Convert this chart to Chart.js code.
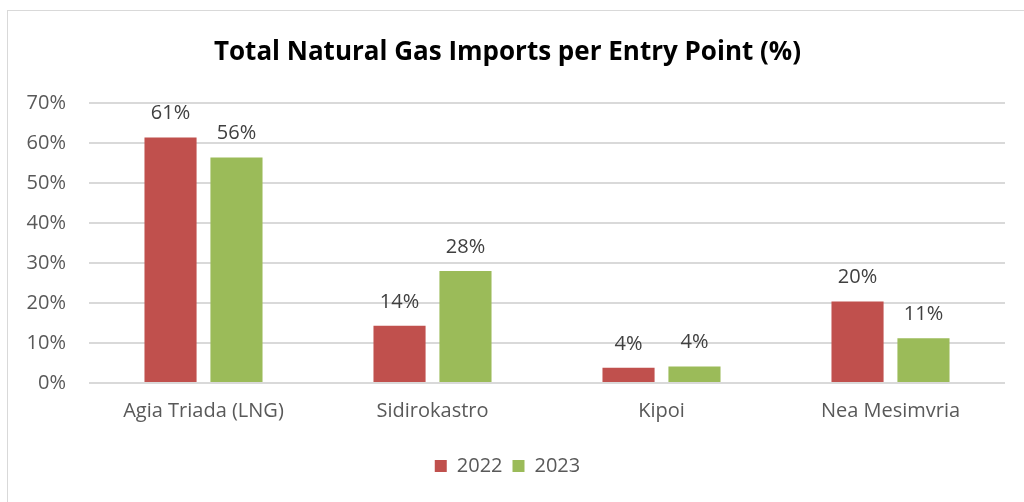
<!DOCTYPE html>
<html><head><meta charset="utf-8">
<script src="https://cdn.jsdelivr.net/npm/chart.js@4/dist/chart.umd.min.js"></script>
<style>
html,body{margin:0;padding:0;background:#fff;}
#wrap{position:relative;width:1024px;height:502px;overflow:hidden;}
#frame{position:absolute;left:7px;top:10px;width:1030px;height:500px;border:1px solid #d9d9d9;box-sizing:border-box;}
canvas{position:absolute;left:0;top:0;}
</style></head>
<body><div id="wrap"><div id="frame"></div><canvas id="c" width="1024" height="502"></canvas></div>
<script>
const categories = ["Agia Triada (LNG)", "Sidirokastro", "Kipoi", "Nea Mesimvria"];
const values2022 = [61.4, 14.3, 3.8, 20.4];
const values2023 = [56.4, 28.0, 4.1, 11.2];
const labels2022 = ["61%", "14%", "4%", "20%"];
const labels2023 = ["56%", "28%", "4%", "11%"];
const seriesNames = ["2022", "2023"];
const FONT = "'Open Sans', Lato, sans-serif";

const dataLabelPlugin = {
  id: 'dataLabels',
  afterDatasetsDraw(chart) {
    const ctx = chart.ctx;
    const lbls = [labels2022, labels2023];
    ctx.save();
    ctx.font = "20px " + FONT;
    ctx.fillStyle = "#404040";
    ctx.textAlign = "center";
    ctx.textBaseline = "middle";
    chart.data.datasets.forEach((ds, di) => {
      chart.getDatasetMeta(di).data.forEach((bar, i) => {
        ctx.fillText(lbls[di][i], bar.x, bar.y - 24);
      });
    });
    ctx.restore();
  }
};

new Chart(document.getElementById('c'), {
  type: 'bar',
  data: {
    labels: categories,
    datasets: [
      {label: seriesNames[0], data: values2022, backgroundColor: '#C0504D', categoryPercentage: 0.576, barPercentage: 0.79},
      {label: seriesNames[1], data: values2023, backgroundColor: '#9BBB59', categoryPercentage: 0.576, barPercentage: 0.79}
    ]
  },
  options: {
    responsive: false,
    animation: false,
    devicePixelRatio: 1,
    layout: {padding: {left: 10, right: 19, top: 11, bottom: 16}},
    plugins: {
      title: {display: true, text: 'Total Natural Gas Imports per Entry Point (%)', color: '#000',
        font: {family: FONT, size: 26, weight: 'bold'}, padding: {top: 26, bottom: 35}},
      legend: {position: 'bottom', labels: {color: '#595959', font: {family: FONT, size: 20},
        boxWidth: 12, boxHeight: 12, padding: 10}},
      tooltip: {enabled: false}
    },
    scales: {
      y: {min: 0, max: 70, ticks: {stepSize: 10, color: '#595959', font: {family: FONT, size: 20}, padding: 23,
            callback: v => v + '%'},
          grid: {color: '#d9d9d9', lineWidth: 2, drawTicks: false}, border: {display: false},
          afterFit: s => { s.width = 79; }},
      x: {ticks: {color: '#595959', font: {family: FONT, size: 20}, padding: 16},
          grid: {display: false, drawTicks: false}, border: {display: false},
          afterFit: s => { s.height = 63; }}
    }
  },
  plugins: [dataLabelPlugin]
});
</script></body></html>
